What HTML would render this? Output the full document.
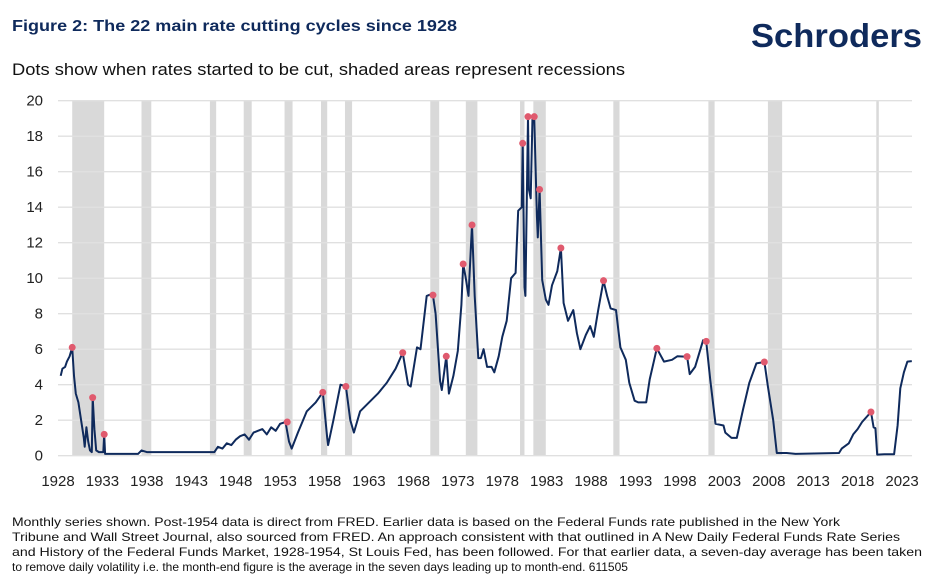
<!DOCTYPE html>
<html><head><meta charset="utf-8">
<style>
html,body{margin:0;padding:0;background:#fff;}
svg{display:block;font-family:"Liberation Sans",sans-serif;}
</style></head>
<body>
<svg id="chart" width="943" height="587" viewBox="0 0 943 587">
  <text x="12" y="31" font-size="16" font-weight="bold" fill="#0f2a5c" textLength="445" lengthAdjust="spacingAndGlyphs">Figure 2: The 22 main rate cutting cycles since 1928</text>
  <text x="751" y="47" font-size="33" font-weight="bold" fill="#0f2a5c" textLength="171" lengthAdjust="spacingAndGlyphs">Schroders</text>
  <text x="12" y="75" font-size="17" fill="#111" textLength="613" lengthAdjust="spacingAndGlyphs">Dots show when rates started to be cut, shaded areas represent recessions</text>
  <g id="recessions"></g>
  <g id="grid"></g>
  <g id="yticks"></g>
  <g id="xticks"></g>
  <path id="line" fill="none" stroke="#0f2a5c" stroke-width="2" stroke-linejoin="round"></path>
  <g id="dots"></g>
  <g font-size="12" fill="#111">
    <text x="12" y="526" textLength="828" lengthAdjust="spacingAndGlyphs">Monthly series shown. Post-1954 data is direct from FRED. Earlier data is based on the Federal Funds rate published in the New York</text>
    <text x="12" y="541" textLength="888" lengthAdjust="spacingAndGlyphs">Tribune and Wall Street Journal, also sourced from FRED. An approach consistent with that outlined in A New Daily Federal Funds Rate Series</text>
    <text x="12" y="556" textLength="910" lengthAdjust="spacingAndGlyphs">and History of the Federal Funds Market, 1928-1954, St Louis Fed, has been followed. For that earlier data, a seven-day average has been taken</text>
    <text x="12" y="571" textLength="616" lengthAdjust="spacingAndGlyphs">to remove daily volatility i.e. the month-end figure is the average in the seven days leading up to month-end. 611505</text>
  </g>
</svg>
<script>
const yTicks = [0,2,4,6,8,10,12,14,16,18,20];
const xTickYears = [1928,1933,1938,1943,1948,1953,1958,1963,1968,1973,1978,1983,1988,1993,1998,2003,2008,2013,2018,2023];
const recessionStarts = [1929.6,1937.4,1945.1,1948.9,1953.5,1957.6,1960.3,1969.9,1973.9,1980.0,1981.5,1990.5,2001.2,2007.9,2020.1];
const recessionEnds   = [1933.2,1938.5,1945.8,1949.8,1954.4,1958.3,1961.1,1970.9,1975.2,1980.5,1982.9,1991.2,2001.9,2009.5,2020.3];
const rateYears = [1928.3,1928.5,1928.8,1929.0,1929.3,1929.6,1929.8,1930.0,1930.3,1930.6,1930.9,1931.0,1931.2,1931.4,1931.6,1931.8,1931.9,1932.1,1932.3,1932.6,1933.1,1933.2,1933.3,1937.0,1937.4,1938.0,1945.6,1946.0,1946.5,1947.0,1947.5,1948.0,1948.5,1949.0,1949.5,1950.0,1950.5,1951.0,1951.5,1952.0,1952.5,1953.0,1953.6,1954.0,1954.3,1955.0,1956.0,1957.0,1957.8,1958.3,1958.4,1959.0,1959.8,1960.4,1960.9,1961.3,1962.0,1963.0,1964.0,1965.0,1966.0,1966.8,1967.4,1967.7,1968.4,1968.8,1969.5,1970.0,1970.2,1970.5,1971.0,1971.2,1971.7,1972.0,1972.5,1973.0,1973.4,1973.6,1973.9,1974.2,1974.6,1974.9,1975.3,1975.6,1975.9,1976.3,1976.8,1977.1,1977.6,1978.0,1978.5,1979.0,1979.5,1979.8,1980.2,1980.3,1980.5,1980.6,1980.9,1981.0,1981.2,1981.4,1981.6,1981.9,1982.0,1982.2,1982.5,1982.9,1983.2,1983.6,1984.2,1984.6,1984.9,1985.4,1986.0,1986.4,1986.8,1987.4,1987.9,1988.3,1988.8,1989.4,1989.8,1990.2,1990.8,1991.3,1991.9,1992.3,1992.9,1993.3,1994.2,1994.6,1995.1,1995.4,1996.2,1997.1,1997.7,1998.8,1999.1,1999.7,2000.6,2000.96,2001.4,2002.0,2002.9,2003.1,2003.8,2004.4,2005.1,2005.8,2006.6,2007.5,2007.9,2008.5,2008.9,2010.0,2011.0,2015.9,2016.2,2017.0,2017.5,2018.0,2018.5,2019.5,2019.8,2020.0,2020.2,2021.0,2022.1,2022.5,2022.8,2023.2,2023.6,2024.1];
const rateValues = [4.5,4.9,5.0,5.3,5.6,6.1,4.5,3.5,3.0,2.0,1.0,0.5,1.6,0.8,0.3,0.2,3.27,1.5,0.3,0.2,0.2,1.2,0.1,0.1,0.3,0.2,0.2,0.5,0.4,0.7,0.6,0.9,1.1,1.2,0.9,1.3,1.4,1.5,1.2,1.6,1.4,1.8,1.9,0.8,0.4,1.3,2.5,3.0,3.57,1.0,0.6,2.0,4.0,3.9,2.0,1.3,2.5,3.0,3.5,4.1,4.9,5.8,4.0,3.9,6.1,6.0,9.0,9.1,9.05,8.0,4.2,3.7,5.6,3.5,4.5,5.9,8.5,10.8,10.0,9.0,13.0,9.0,5.5,5.5,6.0,5.0,5.0,4.7,5.6,6.7,7.6,10.0,10.3,13.8,14.0,17.6,9.5,9.0,19.1,15.0,14.5,19.1,19.1,13.5,12.3,15.0,9.9,8.8,8.5,9.6,10.4,11.7,8.6,7.6,8.2,6.9,6.0,6.8,7.3,6.7,8.2,9.86,9.0,8.3,8.2,6.1,5.4,4.1,3.1,3.0,3.0,4.3,5.4,6.05,5.3,5.4,5.6,5.58,4.6,5.0,6.5,6.44,4.3,1.8,1.7,1.3,1.0,1.0,2.6,4.1,5.2,5.28,3.9,2.0,0.15,0.15,0.1,0.15,0.4,0.7,1.2,1.5,1.9,2.46,1.6,1.55,0.06,0.08,0.08,1.7,3.8,4.7,5.3,5.33];
const cutYears = [1929.6,1931.9,1933.2,1953.8,1957.8,1960.4,1966.8,1970.2,1971.7,1973.6,1974.6,1980.3,1980.9,1981.6,1982.2,1984.6,1989.4,1995.4,1998.8,2000.96,2007.5,2019.5];
const cutValues = [6.1,3.27,1.2,1.9,3.57,3.9,5.8,9.05,5.6,10.8,13.0,17.6,19.1,19.1,15.0,11.7,9.86,6.05,5.58,6.44,5.28,2.46];

const NS = 'http://www.w3.org/2000/svg';
const X0 = 58, PXY = 8.885, Y0 = 455.7, PXV = 17.75;
const xs = y => X0 + (y - 1928) * PXY;
const ys = v => Y0 - v * PXV;
const plotL = 58, plotR = 912;

const rec = document.getElementById('recessions');
recessionStarts.forEach((s, i) => {
  const r = document.createElementNS(NS, 'rect');
  
  
  r.setAttribute('x', xs(s)); r.setAttribute('width', Math.max(2.5, xs(recessionEnds[i]) - xs(s)));
  r.setAttribute('y', ys(20)); r.setAttribute('height', ys(0) - ys(20));
  r.setAttribute('fill', '#d9d9d9');
  rec.appendChild(r);
});

const grid = document.getElementById('grid'), yt = document.getElementById('yticks');
yTicks.forEach(v => {
  const l = document.createElementNS(NS, 'line');
  
  
  l.setAttribute('x1', plotL); l.setAttribute('x2', plotR);
  l.setAttribute('y1', ys(v)); l.setAttribute('y2', ys(v));
  l.setAttribute('stroke', '#e0e0e0'); l.setAttribute('stroke-width', '1.3');
  grid.appendChild(l);
  const t = document.createElementNS(NS, 'text');
  
  
  t.setAttribute('x', 43); t.setAttribute('y', ys(v) + 5);
  t.setAttribute('text-anchor', 'end'); t.setAttribute('font-size', '15'); t.setAttribute('fill', '#222');
  t.textContent = v;
  yt.appendChild(t);
});

const xt = document.getElementById('xticks');
xTickYears.forEach(yr => {
  const t = document.createElementNS(NS, 'text');
  
  
  t.setAttribute('x', xs(yr)); t.setAttribute('y', 486);
  t.setAttribute('text-anchor', 'middle'); t.setAttribute('font-size', '15'); t.setAttribute('fill', '#222');
  t.textContent = yr;
  xt.appendChild(t);
});

document.getElementById('line').setAttribute('d',
  rateYears.map((y, i) => (i ? 'L' : 'M') + xs(y).toFixed(1) + ',' + ys(rateValues[i]).toFixed(1)).join(''));

const dots = document.getElementById('dots');
cutYears.forEach((y, i) => {
  const c = document.createElementNS(NS, 'circle');
  
  
  c.setAttribute('cx', xs(y)); c.setAttribute('cy', ys(cutValues[i])); c.setAttribute('r', 3.5);
  c.setAttribute('fill', '#e05a6e');
  dots.appendChild(c);
});
</script>
</body></html>
